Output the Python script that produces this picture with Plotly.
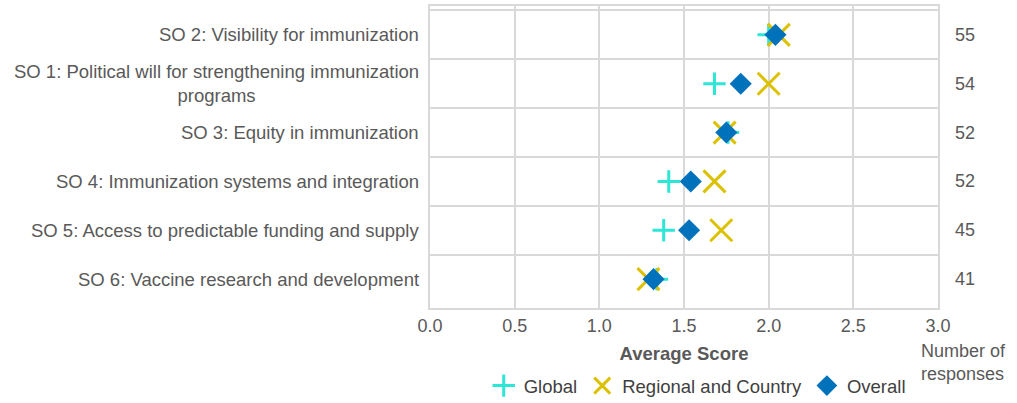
import plotly.graph_objects as go

categories = [
    "SO 2: Visibility for immunization",
    "SO 1: Political will for strengthening immunization<br>programs",
    "SO 3: Equity in immunization",
    "SO 4: Immunization systems and integration",
    "SO 5: Access to predictable funding and supply",
    "SO 6: Vaccine research and development",
]
global_scores = [2.00, 1.68, 1.76, 1.41, 1.38, 1.34]
regional_scores = [2.06, 2.00, 1.74, 1.68, 1.72, 1.29]
overall_scores = [2.04, 1.835, 1.75, 1.54, 1.53, 1.32]
responses = [55, 54, 52, 52, 45, 41]
x_ticks = [0.0, 0.5, 1.0, 1.5, 2.0, 2.5, 3.0]

FONT = "Liberation Sans"
GRAY = "#595959"
GRID = "#d9d9d9"

fig = go.Figure()
fig.add_trace(go.Scatter(
    x=global_scores, y=categories, mode="markers", name="Global",
    marker=dict(symbol="cross-thin", size=16, color="#2ee6d6",
                line=dict(color="#2ee6d6", width=3)),
))
fig.add_trace(go.Scatter(
    x=regional_scores, y=categories, mode="markers", name="Regional and Country",
    marker=dict(symbol="x-thin", size=22, color="#dcc100",
                line=dict(color="#dcc100", width=3)),
))
fig.add_trace(go.Scatter(
    x=overall_scores, y=categories, mode="markers", name="Overall",
    marker=dict(symbol="diamond", size=17, color="#0072bc"),
))

annotations = []
for cat, n in zip(categories, responses):
    annotations.append(dict(
        x=0, xref="paper", y=cat, yref="y", text=cat, showarrow=False,
        xanchor="right", yanchor="middle", xshift=-9, align="center",
        font=dict(family=FONT, size=18.5, color=GRAY),
    ))
    annotations.append(dict(
        x=1, xref="paper", y=cat, yref="y", text=str(n), showarrow=False,
        xanchor="left", yanchor="middle", xshift=15, align="left",
        font=dict(family=FONT, size=18, color=GRAY),
    ))
annotations.append(dict(
    x=0.962, xref="paper", y=-0.18, yref="paper", text="Number of<br>responses",
    showarrow=False, xanchor="left", yanchor="middle", align="left",
    font=dict(family=FONT, size=18, color=GRAY),
))

fig.update_layout(
    width=1017, height=403,
    margin=dict(l=430, r=79, t=6, b=95, autoexpand=False),
    paper_bgcolor="white", plot_bgcolor="white",
    font=dict(family=FONT, size=18, color=GRAY),
    showlegend=True,
    legend=dict(orientation="h", x=0.526, xanchor="center",
                yref="container", y=0.042, yanchor="middle",
                font=dict(family=FONT, size=18.5, color="#404040"),
                itemwidth=30, tracegroupgap=0),
    annotations=annotations,
    xaxis=dict(
        range=[0, 3], tickvals=x_ticks, ticktext=[f"{v:.1f}" for v in x_ticks],
        showgrid=True, gridcolor=GRID, gridwidth=2, zeroline=False,
        showline=True, linecolor=GRID, linewidth=2, mirror=True,
        ticks="", tickfont=dict(family=FONT, size=18, color=GRAY),
        title=dict(text="<b>Average Score</b>", standoff=12,
                   font=dict(family=FONT, size=18.5, color=GRAY)),
    ),
    yaxis=dict(
        type="category", categoryorder="array", categoryarray=categories,
        autorange="reversed", tickson="boundaries", showticklabels=False,
        showgrid=True, gridcolor=GRID, gridwidth=2, zeroline=False,
        showline=True, linecolor=GRID, linewidth=2, mirror=True, ticks="",
    ),
)

fig.write_html("out.html", config={"displayModeBar": False})

with open("out.html", "r", encoding="utf-8") as f:
    html = f.read()
html = html.replace("<head>", "<head><style>html,body{margin:0;padding:0;}</style>", 1)
with open("out.html", "w", encoding="utf-8") as f:
    f.write(html)
